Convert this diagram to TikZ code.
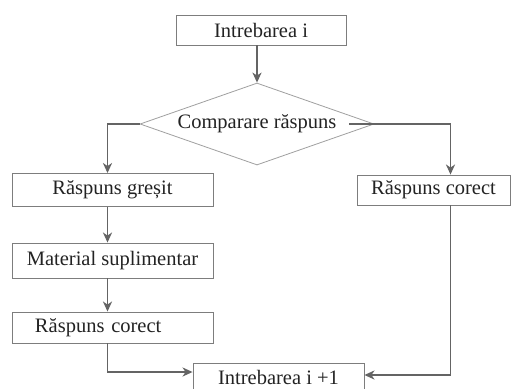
\documentclass[tikz,border=0pt]{standalone}
\usepackage{fontspec}
\setmainfont{Liberation Serif}
\usetikzlibrary{arrows.meta,shapes.geometric}
\definecolor{edgegray}{RGB}{125,125,125}
\definecolor{diagray}{RGB}{160,160,160}
\definecolor{linkgray}{RGB}{100,100,100}
\definecolor{inkcol}{RGB}{35,35,35}
\begin{document}
\begin{tikzpicture}[x=1bp,y=-1bp,
  font=\fontsize{20.5bp}{24bp}\selectfont, text=inkcol,
  box/.style={draw=edgegray, line width=0.9bp, fill=white, inner sep=0pt},
  link/.style={draw=linkgray, line width=1.8bp,
    -{Stealth[length=10bp,width=9bp,inset=3bp]}}]
\useasboundingbox (0,0) rectangle (515,388);
\fill[white] (0,0) rectangle (515,388);
\clip (0,0) rectangle (515,388);

% question and decision
\node[box, minimum width=170bp, minimum height=30bp] (q) at (261,30) {Intrebarea i};
\node[diamond, draw=diagray, line width=0.8bp, shape aspect=2.85,
      minimum width=234bp, minimum height=82bp, inner sep=0pt] (cmp) at (257,124) {Comparare răspuns};

% wrong-answer branch
\node[box, minimum width=201bp, minimum height=33bp] (wrong) at (112.5,190) {Răspuns greșit};
\node[box, minimum width=201bp, minimum height=35bp] (extra) at (112.5,260.5) {Material suplimentar};
\node[box, minimum width=201bp, minimum height=31bp, text width=155bp,
      inner xsep=23bp, align=left] (okl) at (112.5,327.5) {Răspuns corect};

% right-answer branch
\node[box, minimum width=153bp, minimum height=30bp] (okr) at (433.5,190) {Răspuns corect};

% next question, running off the lower edge
\node[box, minimum width=171bp, minimum height=28bp] (next) at (278.5,377) {Intrebarea i +1};

% connectors
\draw[link] (q.south -| cmp.north) -- (cmp.north);
\draw[link] (cmp.west) -| ([xshift=-5bp]wrong.north);
\draw[link] ([xshift=-25bp]cmp.east) -| ([xshift=17bp]okr.north);
\draw[link] ([xshift=-5bp]wrong.south) -- ([xshift=-5bp]extra.north);
\draw[link] ([xshift=-5bp]extra.south) -- ([xshift=-5bp]okl.north);
\draw[link] ([xshift=-5bp]okl.south) |- ([yshift=5bp]next.west);
\draw[link] ([xshift=17bp]okr.south) |- ([yshift=2bp]next.east);
\end{tikzpicture}
\end{document}
